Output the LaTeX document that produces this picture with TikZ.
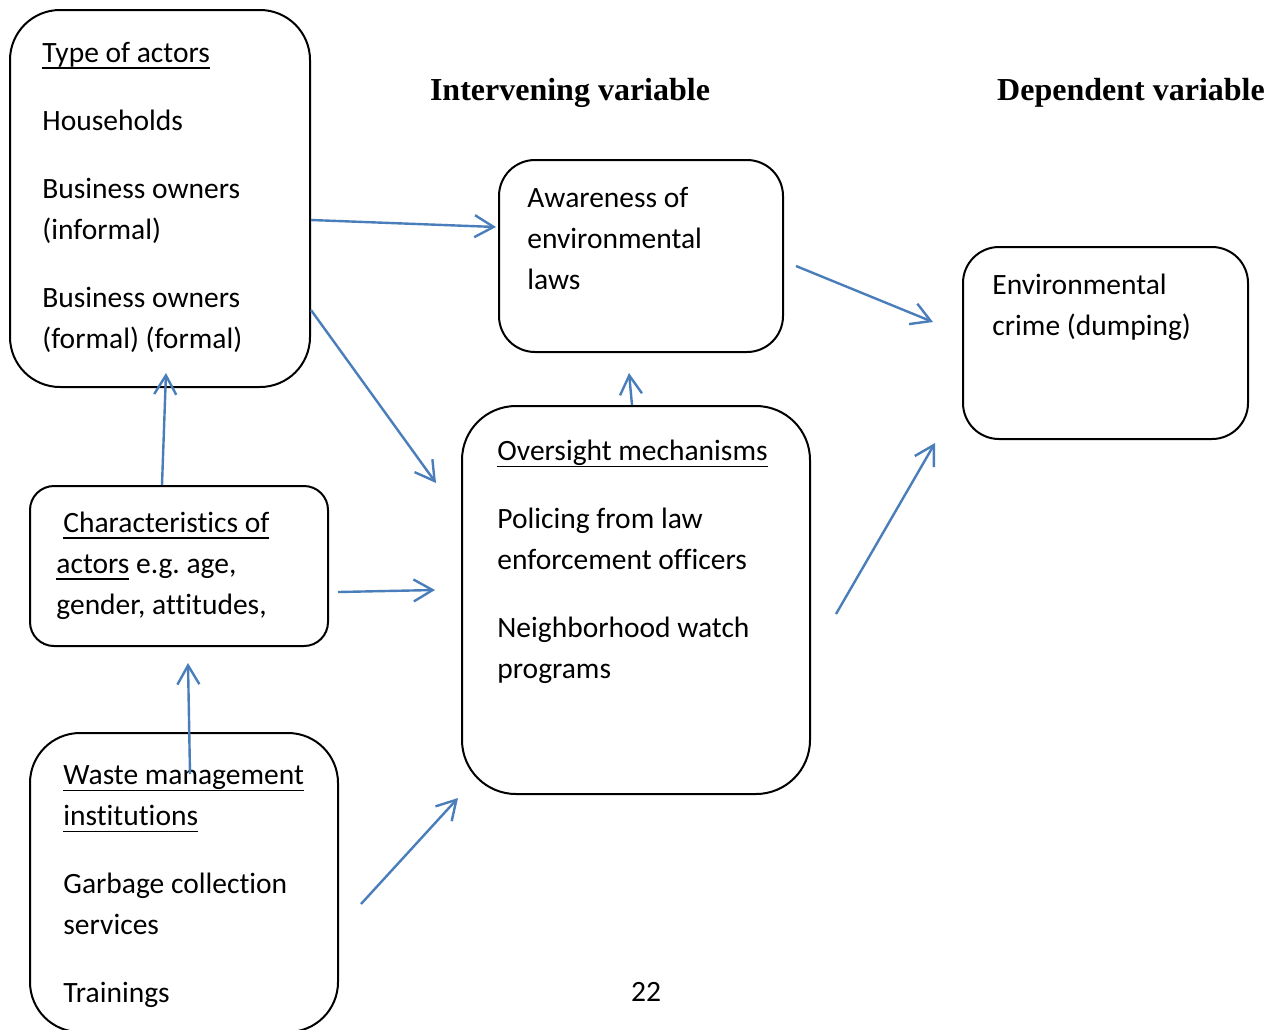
\documentclass[tikz,border=0pt]{standalone}
\usepackage{fontspec}
\setmainfont{Carlito}[Ligatures=NoCommon]
\newfontfamily\headfont{Liberation Serif}
\definecolor{FlowBlue}{RGB}{74,126,187}
\usetikzlibrary{arrows.meta}

% underline at a fixed depth, as the word processor draws it
\newcommand\uln[1]{\setbox0\hbox{#1}\rlap{\rule[-3.2pt]{\wd0}{0.8pt}}\box0\relax}

\tikzset{
    box/.style={draw=black, line width=1pt, rounded corners=#1, inner sep=0pt},
    box/.default=18pt,
    txt/.style={inner sep=0pt, align=left, font=\frenchspacing\fontsize{14.75}{20.5}\selectfont},
    head/.style={inner sep=0pt, font=\headfont\bfseries\fontsize{16}{19}\selectfont},
    flow/.style={draw=FlowBlue, line width=1.2pt, -{Straight Barb[length=9.5pt, width=11pt]}},
}

\begin{document}
\begin{tikzpicture}[x=0.5pt, y=-0.5pt]
        \useasboundingbox (0,0) rectangle (1278,1029);
        \fill[white] (0,0) rectangle (1278,1029);

        % headings
        \node[head, anchor=base] (ivhead) at (570,100) {Intervening variable};
        \node[head, anchor=base] (dvhead) at (1131,100) {Dependent variable};

        % boxes
        \node[box=25pt, minimum width=150pt, minimum height=188.5pt] (type) at (160,198.5) {};
        \node[box=12pt, minimum width=149pt, minimum height=80pt] (chars) at (179,566) {};
        \node[box=25pt, minimum width=154pt, minimum height=149.5pt] (waste) at (184,882.5) {};
        \node[box, minimum width=142pt, minimum height=96pt] (aware) at (641,256) {};
        \node[box=27pt, minimum width=174pt, minimum height=194pt] (over) at (636,600) {};
        \node[box, minimum width=142.5pt, minimum height=96pt] (crime) at (1105.5,343) {};

        % box texts
        \node[txt, anchor=north west] (typetxt) at ([shift={(33,32.5)}]type.north west)
            {\uln{Type of actors}\\[13.5pt] Households\\[13.5pt] Business owners\\ (informal)\\[13.5pt] Business owners\\ (formal) (formal)};
        \node[txt, anchor=north west] (charstxt) at ([shift={(27,26.5)}]chars.north west)
            {\hspace*{3.5pt}\uln{Characteristics of}\\ \uln{actors} e.g. age,\\ gender, attitudes,};
        \node[txt, anchor=north west] (wastetxt) at ([shift={(34,33.5)}]waste.north west)
            {\uln{Waste management}\\ \uln{institutions}\\[13.5pt] Garbage collection\\ services\\[13.5pt] Trainings};
        \node[txt, anchor=north west] (awaretxt) at ([shift={(29,28)}]aware.north west)
            {Awareness of\\ environmental\\ laws};
        \node[txt, anchor=north west] (overtxt) at ([shift={(36,35)}]over.north west)
            {\uln{Oversight mechanisms}\\[13.5pt] Policing from law\\ enforcement officers\\[13.5pt] Neighborhood watch\\ programs};
        \node[txt, anchor=north west] (crimetxt) at ([shift={(30,28)}]crime.north west)
            {Environmental\\ crime (dumping)};

        \node[txt, anchor=base] (pagenum) at (646,1001) {22};

        % connectors
        \draw[flow] ([shift={(0,21.5)}]type.east) -- ([shift={(-2,-29)}]aware.west);
        \draw[flow] ([shift={(0,111.5)}]type.east) -- ([shift={(-25,-117)}]over.west);
        \draw[flow] ([shift={(-17,0)}]chars.north) -- ([shift={(6,-15)}]type.south);
        \draw[flow] ([shift={(6,42)}]waste.north) -- ([shift={(9,16)}]chars.south);
        \draw[flow] ([shift={(9,26)}]chars.east) -- ([shift={(-26,-10)}]over.west);
        \draw[flow] ([shift={(22,21.5)}]waste.east) -- ([shift={(-3,3)}]over.south west);
        \draw[flow] ([shift={(-4,0)}]over.north) -- ([shift={(-12,20)}]aware.south);
        \draw[flow] ([shift={(12,10)}]aware.east) -- ([shift={(-29,-21)}]crime.west);
        \draw[flow] ([shift={(25,14)}]over.east) -- ([shift={(-27,3)}]crime.south west);
    \end{tikzpicture}
\end{document}
